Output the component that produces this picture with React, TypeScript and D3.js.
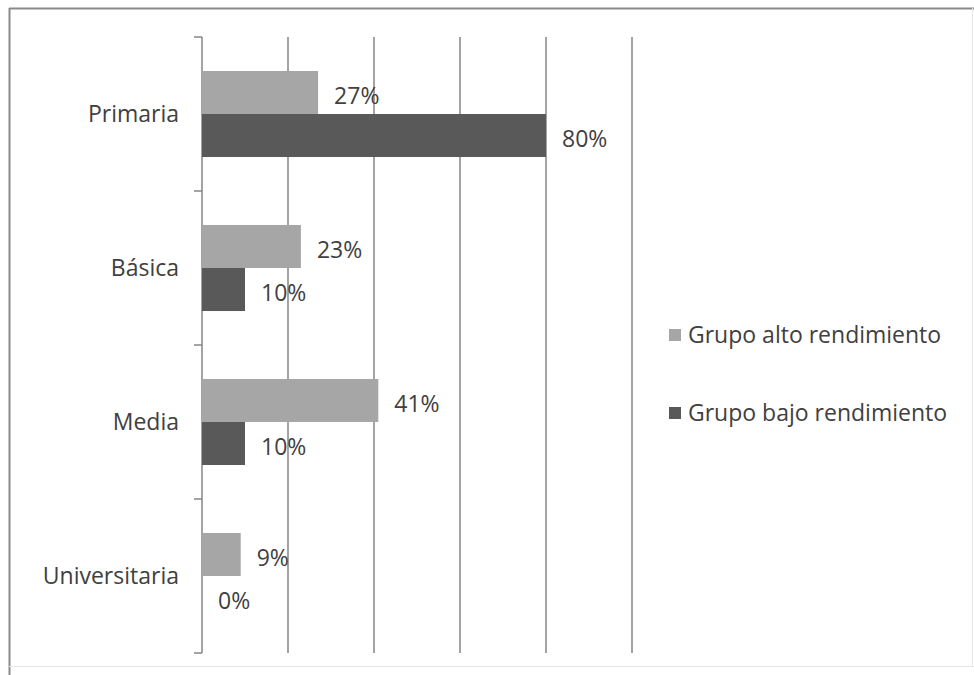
import { useEffect, useRef } from 'react';
import * as d3 from 'd3';

const categories = ['Primaria', 'Básica', 'Media', 'Universitaria'];
const seriesNames = ['Grupo alto rendimiento', 'Grupo bajo rendimiento'];
const altoValues = [27, 23, 41, 9];
const bajoValues = [80, 10, 10, 0];
const xTicks = [0, 20, 40, 60, 80, 100];

const colors = ['#a6a6a6', '#595959'];

export default function App() {
  const svgRef = useRef<SVGSVGElement>(null);

  useEffect(() => {
    if (!svgRef.current) return;
    const svg = d3.select(svgRef.current);
    svg.selectAll('*').remove();

    const width = 974;
    const height = 675;
    const font = '"Open Sans", Lato, sans-serif';
    const fontSize = 23;

    svg.attr('width', width).attr('height', height);

    svg.append('rect').attr('width', width).attr('height', height).attr('fill', '#fff');

    // frame
    svg.append('line').attr('x1', 9.5).attr('x2', 9.5).attr('y1', 8).attr('y2', 675)
      .attr('stroke', '#8a8a8a').attr('stroke-width', 2);
    svg.append('line').attr('x1', 9).attr('x2', 974).attr('y1', 8.5).attr('y2', 8.5)
      .attr('stroke', '#8a8a8a').attr('stroke-width', 2);
    svg.append('line').attr('x1', 972.5).attr('x2', 972.5).attr('y1', 8).attr('y2', 667)
      .attr('stroke', '#e6e6e6').attr('stroke-width', 1);
    svg.append('line').attr('x1', 9).attr('x2', 974).attr('y1', 666.5).attr('y2', 666.5)
      .attr('stroke', '#e6e6e6').attr('stroke-width', 1);

    const x = d3.scaleLinear().domain([0, 100]).range([202, 632]);
    const y = d3.scaleBand<string>().domain(categories).range([37, 653]);
    const inner = d3.scaleBand<number>().domain([0, 1]).range([0, y.bandwidth()]).paddingOuter(0.79);

    // gridlines
    svg.append('g').selectAll('line')
      .data(xTicks.slice(1))
      .enter()
      .append('line')
      .attr('x1', d => x(d))
      .attr('x2', d => x(d))
      .attr('y1', 37)
      .attr('y2', 653)
      .attr('stroke', '#868686')
      .attr('stroke-width', 1.5);

    // axis
    svg.append('line')
      .attr('x1', x(0)).attr('x2', x(0)).attr('y1', 37).attr('y2', 653)
      .attr('stroke', '#868686').attr('stroke-width', 1.5);
    const tickYs = categories.map(c => y(c) as number).concat([653]);
    svg.append('g').selectAll('line')
      .data(tickYs)
      .enter()
      .append('line')
      .attr('x1', x(0) - 8).attr('x2', x(0))
      .attr('y1', d => d).attr('y2', d => d)
      .attr('stroke', '#868686').attr('stroke-width', 1.5);

    // category labels
    svg.append('g').selectAll('text')
      .data(categories)
      .enter()
      .append('text')
      .attr('x', 179)
      .attr('y', d => (y(d) as number) + y.bandwidth() / 2)
      .attr('dy', '0.35em')
      .attr('text-anchor', 'end')
      .attr('font-family', font)
      .attr('font-size', fontSize)
      .attr('fill', '#404040')
      .text(d => d);

    const series = [altoValues, bajoValues];
    series.forEach((vals, si) => {
      const g = svg.append('g');
      g.selectAll('rect')
        .data(vals)
        .enter()
        .append('rect')
        .attr('x', x(0))
        .attr('y', (d, i) => (y(categories[i]) as number) + (inner(si) as number))
        .attr('width', d => x(d) - x(0))
        .attr('height', inner.bandwidth())
        .attr('fill', colors[si]);
      g.selectAll('text')
        .data(vals)
        .enter()
        .append('text')
        .attr('x', d => x(d) + 16)
        .attr('y', (d, i) => (y(categories[i]) as number) + (inner(si) as number) + inner.bandwidth() / 2 + 3)
        .attr('dy', '0.35em')
        .attr('font-family', font)
        .attr('font-size', fontSize)
        .attr('fill', '#404040')
        .text(d => `${d}%`);
    });

    // legend
    const legend = svg.append('g');
    seriesNames.forEach((name, i) => {
      const ly = 335 + i * 78;
      legend.append('rect')
        .attr('x', 669).attr('y', ly - 6).attr('width', 12).attr('height', 12)
        .attr('fill', colors[i]);
      legend.append('text')
        .attr('x', 688).attr('y', ly)
        .attr('dy', '0.35em')
        .attr('font-family', font)
        .attr('font-size', fontSize)
        .attr('fill', '#404040')
        .text(name);
    });
  }, []);

  return (
    <svg ref={svgRef} style={{ position: 'absolute', left: 0, top: 0, display: 'block' }}></svg>
  );
}
